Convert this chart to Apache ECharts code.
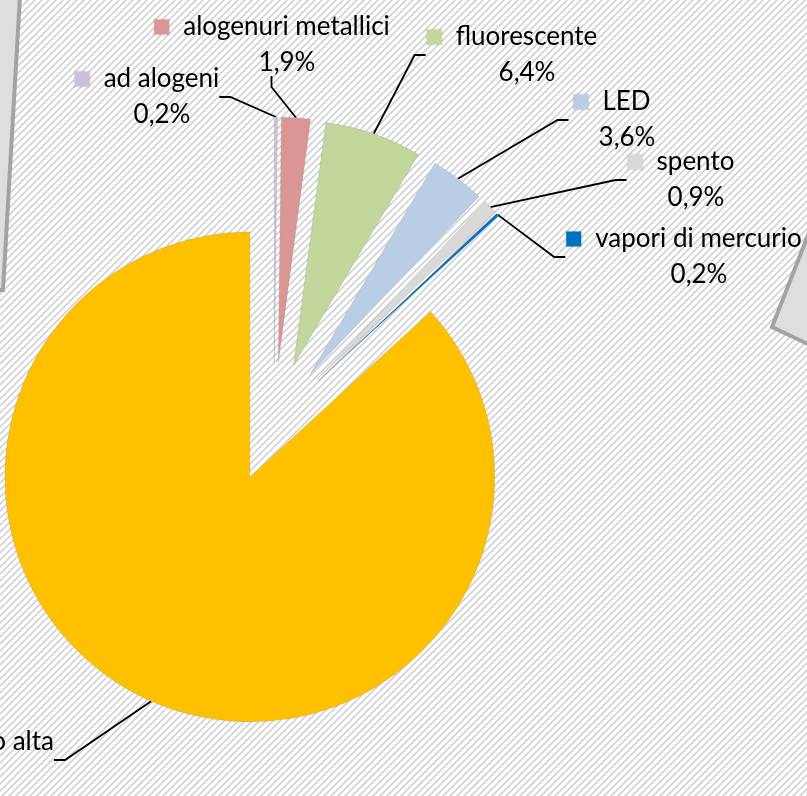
<!DOCTYPE html>
<html>
<head>
<meta charset="utf-8">
<script src="https://cdn.jsdelivr.net/npm/echarts@6/dist/echarts.min.js"></script>
<style>
  html, body { margin: 0; padding: 0; background: #fff; }
  #main { width: 807px; height: 796px; }
</style>
</head>
<body>
<div id="main"></div>
<script>
// lamp types, clockwise from 12 o'clock
var categories = ['ad alogeni', 'alogenuri metallici', 'fluorescente', 'LED', 'spento', 'vapori di mercurio', 'vapori di sodio alta']
var shares = [0.2, 1.9, 6.4, 3.6, 0.9, 0.2, 86.8]

var colors = ['#ccc1da', '#d99694', '#c3d69b', '#b9cde5', '#d9d9d9', '#0070c0', '#ffc000']
// where each label block sits (x, y, align)
var labelPos = [
  [147, 97, 'center'],
  [272, 45, 'center'],
  [512, 55, 'center'],
  [612, 120, 'center'],
  [681, 180, 'center'],
  [684, 257, 'center'],
  [54, 760, 'right']
]
var pieCenter = [274, 422]
var explode = 60

function fmtPct(v) {
  return v.toFixed(1).replace('.', ',') + '%'
}

// diagonal hatch for the slide background
function hatch() {
  var c = document.createElement('canvas')
  c.width = 7
  c.height = 7
  var ctx = c.getContext('2d')
  ctx.fillStyle = '#fff'
  ctx.fillRect(0, 0, 7, 7)
  ctx.strokeStyle = '#d2d2d2'
  ctx.lineWidth = 1.6
  ctx.beginPath()
  ctx.moveTo(-1, 8); ctx.lineTo(8, -1)
  ctx.moveTo(-1, 1); ctx.lineTo(1, -1)
  ctx.moveTo(6, 8); ctx.lineTo(8, 6)
  ctx.stroke()
  return c
}

var rich = {
  n: { fontSize: 26, lineHeight: 36, color: '#000', padding: [0, 0, 0, 14], align: 'center' },
  v: { fontSize: 26, lineHeight: 36, color: '#000', padding: [0, 0, 0, 30], align: 'center' }
}
colors.forEach(function(c, i) {
  rich['k' + i] = { width: 15, height: 15, backgroundColor: c, borderColor: 'rgba(0,0,0,0.08)', borderWidth: 1, align: 'center' }
})

// exploded pie: one series per slice, each pushed out along its own mid angle
var total = shares.reduce(function(a, b) { return a + b }, 0)
var series = []
var cum = 0
shares.forEach(function(v, k) {
  var mid = (cum + v / 2) / total * 2 * Math.PI
  cum += v
  series.push({
    type: 'pie',
    center: [pieCenter[0] + explode * Math.sin(mid), pieCenter[1] - explode * Math.cos(mid)],
    radius: 245,
    startAngle: 90,
    clockwise: true,
    avoidLabelOverlap: false,
    silent: true,
    z: k === 6 ? 1 : 2,
    label: {
      show: true,
      position: 'outside',
      fontFamily: 'Lato',
      formatter: function(p) {
        return '{k' + p.dataIndex + '|}{n|' + p.name + '}\n{v|' + fmtPct(p.value) + '}'
      },
      rich: rich
    },
    labelLine: {
      show: true,
      length: 10,
      length2: 11,
      lineStyle: { color: '#000', width: 1.8 }
    },
    labelLayout: function(params) {
      var lp = labelPos[params.dataIndex]
      return { x: lp[0], y: lp[1], align: lp[2], verticalAlign: 'middle' }
    },
    data: categories.map(function(name, i) {
      var own = i === k
      return {
        name: name,
        value: shares[i],
        itemStyle: own
          ? { color: colors[i], borderColor: 'rgba(150,150,150,0.5)', borderWidth: 0.6 }
          : { color: 'rgba(0,0,0,0)', borderWidth: 0 },
        label: { show: own },
        labelLine: { show: own }
      }
    })
  })
})

var myChart = echarts.init(document.getElementById('main'))
myChart.setOption({
  animation: false,
  backgroundColor: { image: hatch(), repeat: 'repeat' },
  textStyle: { fontFamily: 'Lato' },
  graphic: [
    {
      type: 'polygon',
      shape: { points: [[-4, -4], [20, -4], [3, 290], [-4, 290]] },
      style: { fill: '#dedede', stroke: '#a3a3a3', lineWidth: 4 }
    },
    {
      type: 'polygon',
      shape: { points: [[812, 225], [772, 327], [812, 346]] },
      style: { fill: '#dedede', stroke: '#a3a3a3', lineWidth: 4 }
    }
  ],
  series: series
})
</script>
</body>
</html>
